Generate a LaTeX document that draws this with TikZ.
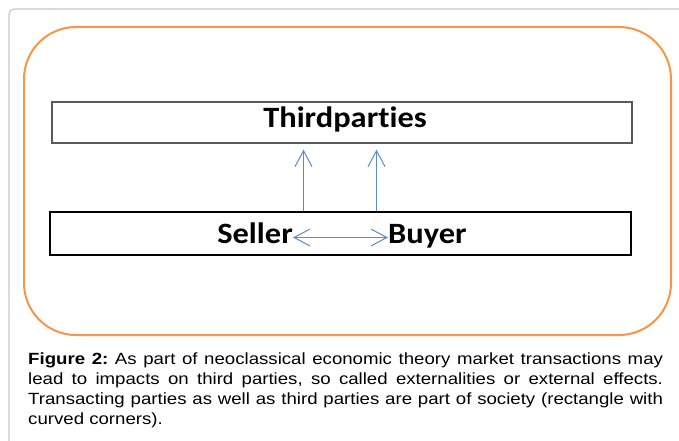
\documentclass[tikz,border=0pt]{standalone}
\usepackage{fontspec}
\usepackage{graphicx}
\setmainfont{Liberation Sans}
\newfontfamily\calib[Ligatures={NoCommon}]{Carlito}
\usetikzlibrary{arrows.meta}
\definecolor{frameg}{RGB}{200,200,200}
\definecolor{socorange}{RGB}{247,150,70}
\definecolor{arrblue}{RGB}{91,139,206}
\definecolor{boxgray}{RGB}{90,90,90}
\newcommand{\wlab}[1]{\scalebox{1.1}[1]{#1}}
\tikzset{
  boxlabel/.style={font=\calib\bfseries\fontsize{29.5}{34}\selectfont, inner sep=0pt},
  arr/.style={draw=arrblue, line width=1pt, -{Straight Barb[length=16pt,width=17pt]}},
  dblarr/.style={draw=arrblue, line width=1pt, {Straight Barb[length=16pt,width=17pt]}-{Straight Barb[length=16pt,width=17pt]}},
}
\begin{document}
\begin{tikzpicture}[x=1pt,y=-1pt]
\useasboundingbox (0,0) rectangle (679,441);
\fill[white] (0,0) rectangle (679,441);
% page frame
\draw[frameg, line width=1.2pt, rounded corners=6pt] (9,460) -- (9,9) -- (700,9);
% society
\node[draw=socorange, line width=2pt, rounded corners=52pt, minimum width=647pt, minimum height=308pt, inner sep=0pt] (society) at (347.5,181) {};
% third parties
\node[draw=boxgray, line width=1.3pt, minimum width=580pt, minimum height=41pt, inner sep=0pt] (third) at (342,122.5) {};
\node[boxlabel, anchor=base] (thirdtext) at (345,128) {\wlab{Thirdparties}};
% transaction box
\node[draw=black, line width=2pt, minimum width=581pt, minimum height=43pt, inner sep=0pt] (trans) at (340.5,233.5) {};
\node[boxlabel, anchor=base east] (seller) at (293,243) {\wlab{Seller}};
\node[boxlabel, anchor=base west] (buyer) at (388,243) {\wlab{Buyer}};
\coordinate (sx) at (303.5,0);
\coordinate (bx) at (376.5,0);
\coordinate (ay) at (0,237.5);
\draw[arr, shorten >=6pt] (trans.north -| sx) -- (third.south -| sx);
\draw[arr, shorten >=6pt] (trans.north -| bx) -- (third.south -| bx);
\draw[dblarr] (seller.east |- ay) -- (buyer.west |- ay);
% caption
\node[anchor=base west, inner sep=0pt, font=\fontsize{16.2}{20}\selectfont] (caption) at (28,364) {\scalebox{1.15}[1]{\parbox[t]{552pt}{\setlength{\parindent}{0pt}\frenchspacing\textbf{Figure 2:} As part of neoclassical economic theory market transactions may\linebreak lead to impacts on third parties, so called externalities or external effects.\linebreak Transacting parties as well as third parties are part of society (rectangle with\linebreak curved corners).}}};
\end{tikzpicture}
\end{document}
